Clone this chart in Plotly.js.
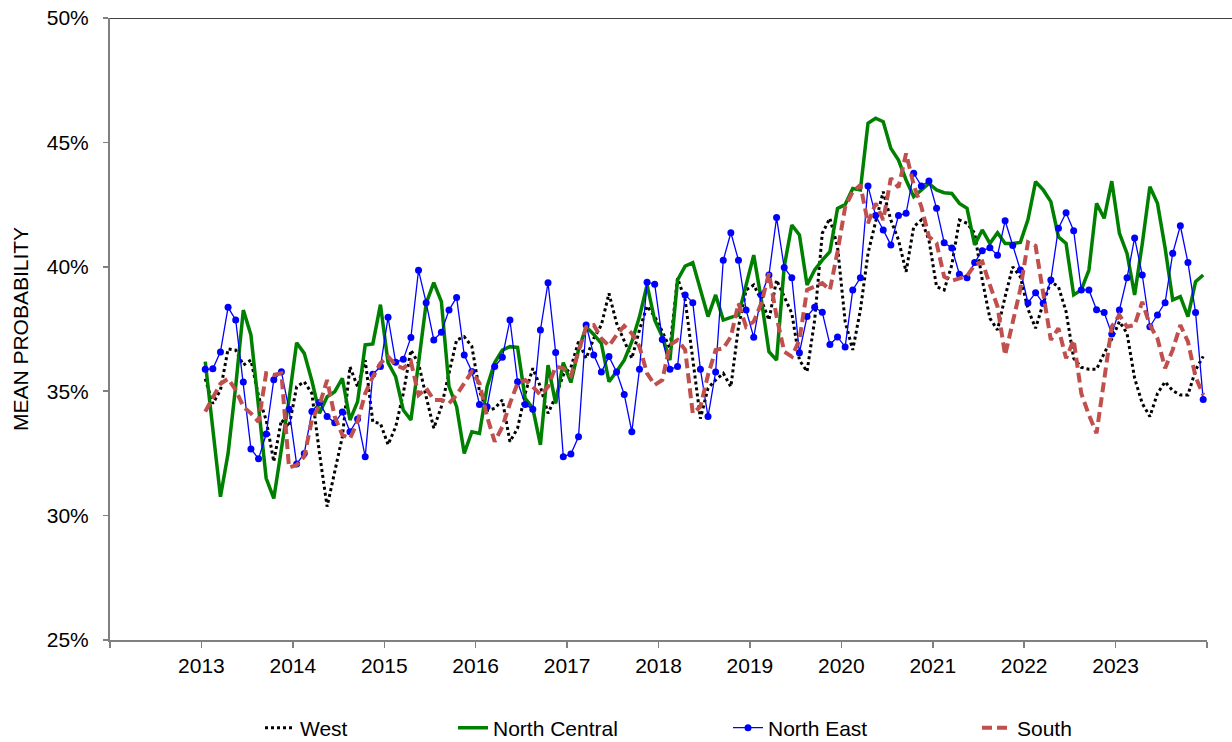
<!DOCTYPE html>
<html>
<head>
<meta charset="utf-8">
<script src="https://cdn.plot.ly/plotly-3.0.1.min.js"></script>
<style>
  html, body { margin: 0; padding: 0; background: #fff; }
  #chart { width: 1232px; height: 742px; }
</style>
</head>
<body>
<div id="chart"></div>
<script>
// Monthly mean probability (%), Jan 2013 .. Dec 2023
const startYear = 2013;
const seriesNames = ["West", "North Central", "North East", "South"];

const west = [
  35.5, 34.5, 35.05, 36.7, 36.65, 36.05, 36.25, 34.8, 33.84, 32.17, 33.85, 33.57,
  35.18, 35.38, 34.91, 32.5, 30.36, 31.83, 33.17, 35.98, 35.18, 36.25, 33.77, 33.7,
  32.85, 33.57, 34.91, 36.65, 36.12, 34.78, 33.51, 34.38, 35.72, 37.06, 37.19, 36.8,
  35.0, 34.22, 34.31, 34.65, 32.97, 33.51, 34.91, 35.92, 35.18, 34.11, 34.78, 35.65,
  35.95, 36.99, 36.32, 37.12, 37.66, 38.93, 37.73, 37.06, 36.32, 37.46, 38.42, 38.0,
  37.4, 36.72, 39.54, 38.67, 36.39, 33.9, 35.12, 35.45, 35.72, 35.18, 37.59, 39.07,
  39.27, 38.67, 37.86, 39.47, 38.8, 38.13, 36.25, 35.79, 37.86, 41.35, 41.95, 40.81,
  37.8, 36.66, 38.26, 40.54, 41.81, 43.02, 41.88, 41.08, 39.8, 41.61, 41.88, 41.08,
  39.2, 39.07, 40.07, 41.88, 41.75, 41.35, 39.47, 37.93, 37.46, 38.8, 40.0, 39.6,
  38.3, 37.53, 38.53, 39.4, 39.2, 38.2, 36.32, 35.96, 35.88, 35.88, 36.52, 37.1,
  37.8, 37.33, 35.52, 34.51, 33.98, 34.91, 35.38, 35.02, 34.85, 34.85, 35.85, 36.4
];

const northCentral = [
  36.19, 33.6, 30.76, 32.5, 35.2, 38.26, 37.26, 34.38, 31.5, 30.69, 32.6, 34.67,
  36.95, 36.52, 35.42, 34.11, 34.78, 34.98, 35.52, 33.84, 34.58, 36.86, 36.9, 38.48,
  36.15, 35.58, 34.24, 33.84, 36.12, 38.53, 39.36, 38.6, 35.18, 34.38, 32.5, 33.37,
  33.3, 35.18, 36.15, 36.65, 36.79, 36.76, 34.71, 34.31, 32.84, 36.05, 34.51, 36.15,
  35.35, 36.66, 37.59, 37.28, 36.92, 35.38, 35.79, 36.25, 36.99, 37.99, 39.27, 37.86,
  37.19, 36.25, 39.47, 40.03, 40.17, 39.07, 38.0, 38.87, 37.86, 37.97, 38.06, 39.27,
  40.47, 38.67, 36.59, 36.25, 40.0, 41.68, 41.28, 39.27, 39.87, 40.27, 40.61, 42.35,
  42.5, 43.15, 43.09, 45.77, 45.97, 45.83, 44.76, 44.29, 43.49, 42.82, 43.09, 43.35,
  43.09, 42.98, 42.95, 42.55, 42.35, 40.88, 41.48, 40.94, 41.37, 40.94, 40.94, 40.98,
  41.9, 43.42, 43.09, 42.62, 41.21, 40.94, 38.87, 39.07, 39.87, 42.55, 41.95, 43.44,
  41.35, 40.54, 38.87, 40.92, 43.22, 42.55, 40.76, 38.67, 38.8, 38.0, 39.4, 39.67
];

const northEast = [
  35.88, 35.9, 36.58, 38.37, 37.86, 35.37, 32.68, 32.28, 33.28, 35.46, 35.78, 34.27,
  32.07, 32.5, 34.18, 34.55, 33.98, 33.73, 34.16, 33.37, 33.88, 32.37, 35.68, 35.99,
  37.97, 36.16, 36.28, 37.16, 39.86, 38.56, 37.06, 37.37, 38.26, 38.77, 36.45, 35.79,
  34.47, 34.38, 35.99, 36.36, 37.86, 35.38, 34.47, 34.27, 37.46, 39.36, 36.56, 32.37,
  32.48, 33.17, 37.66, 36.45, 35.77, 36.39, 35.77, 34.87, 33.37, 35.88, 39.38, 39.3,
  37.08, 35.88, 35.99, 38.87, 38.56, 35.88, 33.98, 35.77, 40.26, 41.37, 40.26, 38.26,
  37.17, 38.87, 39.67, 41.98, 39.97, 39.56, 36.55, 38.0, 38.37, 38.17, 36.88, 37.18,
  36.78, 39.07, 39.56, 43.25, 42.06, 41.48, 40.88, 42.06, 42.15, 43.76, 43.25, 43.45,
  42.35, 40.97, 40.76, 39.7, 39.56, 40.17, 40.65, 40.77, 40.46, 41.85, 40.86, 39.87,
  38.55, 38.96, 38.53, 39.47, 41.55, 42.17, 41.45, 39.07, 39.07, 38.27, 38.16, 37.3,
  38.26, 39.56, 41.16, 39.67, 37.59, 38.06, 38.56, 40.54, 41.65, 40.17, 38.16, 34.67
];

const south = [
  34.18, 34.78, 35.3, 35.5, 35.05, 34.38, 34.11, 33.77, 35.72, 35.65, 35.72, 31.93,
  32.03, 32.37, 33.84, 34.45, 35.45, 33.98, 33.24, 33.1, 33.77, 34.91, 35.58, 36.12,
  36.39, 36.05, 35.92, 36.19, 34.85, 35.12, 34.65, 34.65, 34.51, 34.85, 35.32, 35.79,
  35.32, 33.98, 32.97, 33.57, 34.51, 35.32, 35.45, 35.18, 34.85, 35.18, 35.99, 35.92,
  35.62, 36.66, 37.57, 37.66, 37.12, 36.82, 37.26, 37.62, 37.32, 36.79, 35.72, 35.25,
  35.45, 36.86, 37.06, 36.66, 34.11, 34.38, 35.65, 36.66, 36.72, 37.19, 38.53, 37.59,
  37.8, 38.53, 39.74, 38.0, 36.59, 36.39, 37.06, 39.07, 39.2, 39.34, 39.07, 40.6,
  42.4, 43.02, 43.29, 41.75, 42.55, 41.88, 43.56, 43.19, 44.56, 43.29, 42.42, 41.21,
  40.95, 39.6, 39.44, 39.54, 39.63, 40.07, 40.21, 39.27, 38.4, 36.45, 37.86, 39.1,
  40.99, 40.84, 38.93, 37.06, 37.53, 36.32, 37.06, 34.91, 34.04, 33.31, 35.45, 37.6,
  38.06, 37.59, 37.66, 38.59, 37.66, 37.12, 35.92, 36.66, 37.66, 36.99, 35.58, 34.85
];

const yearTicks = [2012, 2013, 2014, 2015, 2016, 2017, 2018, 2019, 2020, 2021, 2022, 2023, 2024];
const yearLabels = ["", "2013", "2014", "2015", "2016", "2017", "2018", "2019", "2020", "2021", "2022", "2023", ""];
const yTicks = [25, 30, 35, 40, 45, 50];
const yTickLabels = ["25%", "30%", "35%", "40%", "45%", "50%"];

// x position of each monthly observation (mid-month, in fractional years)
const monthX = west.map((_, i) => startYear + (i + 0.5) / 12);

const FONT = "Liberation Sans, Arial, sans-serif";

const traces = [
  {
    x: monthX, y: west, name: seriesNames[0], type: "scatter", mode: "lines",
    line: { color: "#000000", width: 3, dash: "3px,3px" }, legend: "legend"
  },
  {
    x: monthX, y: northCentral, name: seriesNames[1], type: "scatter", mode: "lines",
    line: { color: "#008000", width: 3.5 }, legend: "legend2"
  },
  {
    x: monthX, y: northEast, name: seriesNames[2], type: "scatter", mode: "lines+markers",
    line: { color: "#0000FF", width: 1.3 },
    marker: { color: "#0000FF", size: 7, symbol: "circle" }, legend: "legend3"
  },
  {
    x: monthX, y: south, name: seriesNames[3], type: "scatter", mode: "lines",
    line: { color: "#C0504D", width: 4, dash: "10px,5px" }, legend: "legend4"
  }
];

function legendAt(px) {
  return {
    orientation: "h", x: (px - 110) / 1097, xanchor: "left",
    y: -0.1415, yanchor: "middle", bgcolor: "rgba(0,0,0,0)",
    font: { family: FONT, size: 21, color: "#000" }, borderwidth: 0
  };
}

const layout = {
  width: 1232, height: 742,
  margin: { l: 110, r: 25, t: 18, b: 102, autoexpand: false },
  paper_bgcolor: "#ffffff", plot_bgcolor: "#ffffff",
  font: { family: FONT, size: 21, color: "#000" },
  showlegend: true,
  xaxis: {
    range: [2012, 2024], tickmode: "array", tickvals: yearTicks, ticktext: yearLabels,
    ticks: "outside", ticklen: 6, tickcolor: "#808080", tickwidth: 1.5,
    showline: true, linecolor: "#808080", linewidth: 2,
    showgrid: false, zeroline: false, ticklabelstandoff: 0,
    tickfont: { family: FONT, size: 21, color: "#000" }
  },
  yaxis: {
    range: [25, 50], tickmode: "array", tickvals: yTicks, ticktext: yTickLabels,
    ticks: "outside", ticklen: 5, tickcolor: "#808080", tickwidth: 1.5,
    showline: true, linecolor: "#808080", linewidth: 2,
    showgrid: false, zeroline: false, ticklabelstandoff: 10,
    tickfont: { family: FONT, size: 21, color: "#000" },
    title: { text: "MEAN PROBABILITY", font: { family: FONT, size: 21, color: "#000" }, standoff: 12 }
  },
  shapes: [
    { type: "line", xref: "paper", yref: "y", x0: 0, x1: 1.023, y0: 50, y1: 50,
      line: { color: "#000000", width: 1.5 } }
  ],
  legend: legendAt(260),
  legend2: legendAt(453),
  legend3: legendAt(728),
  legend4: legendAt(977)
};

Plotly.newPlot("chart", traces, layout, { displayModeBar: false, staticPlot: true });
</script>
</body>
</html>
